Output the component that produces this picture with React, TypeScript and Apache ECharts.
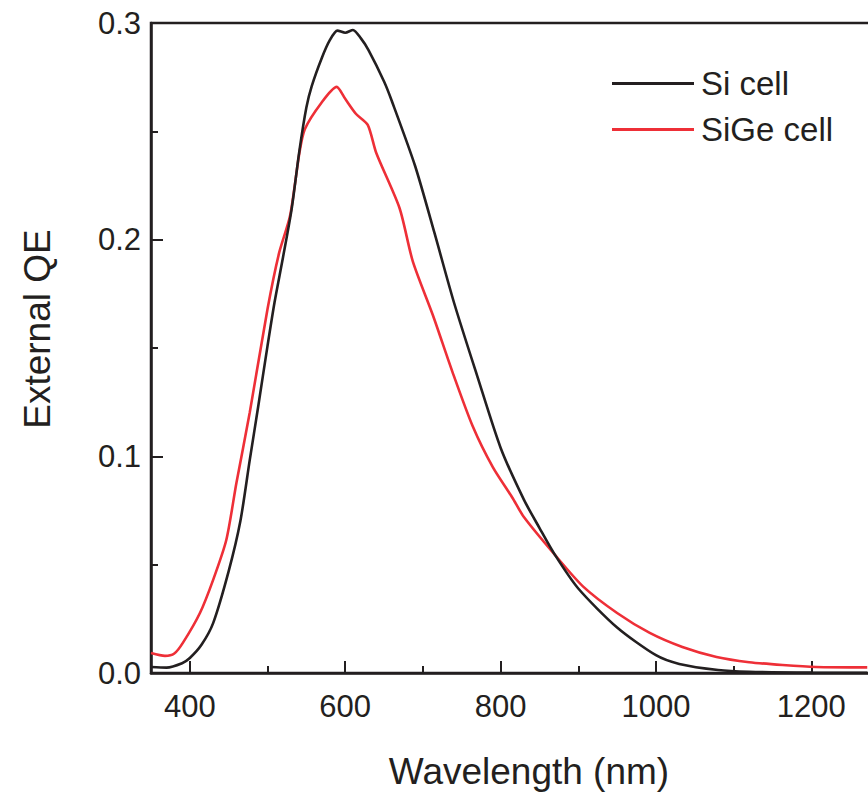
import React, { useEffect, useRef } from "react";
import * as echarts from "echarts";

const siWavelength = [350, 370, 390, 400, 415, 430, 450, 465, 477, 488, 500, 509, 520, 531, 541, 550, 557, 570, 580, 590, 600, 610, 620, 630, 650, 660, 690, 715, 740, 770, 800, 830, 850, 870, 900, 950, 1000, 1030, 1080, 1120, 1200, 1272];
const siQE = [0.0028, 0.0025, 0.0045, 0.0069, 0.013, 0.023, 0.047, 0.07, 0.098, 0.123, 0.151, 0.171, 0.192, 0.214, 0.241, 0.261, 0.271, 0.284, 0.292, 0.2965, 0.2955, 0.2968, 0.293, 0.2875, 0.273, 0.264, 0.234, 0.203, 0.171, 0.137, 0.104, 0.080, 0.067, 0.0545, 0.039, 0.021, 0.0082, 0.0042, 0.0014, 0.0006, 0.0002, 0.0001];

const sigeWavelength = [350, 368, 380, 391, 413, 430, 447, 460, 477, 500, 515, 529, 541, 548, 569, 589, 600, 614, 629, 640, 670, 687, 713, 738, 764, 790, 815, 830, 870, 906, 950, 992, 1034, 1078, 1120, 1163, 1206, 1272];
const sigeQE = [0.0092, 0.0079, 0.009, 0.0139, 0.0277, 0.043, 0.0615, 0.0878, 0.12, 0.168, 0.194, 0.211, 0.240, 0.251, 0.263, 0.2705, 0.265, 0.258, 0.253, 0.240, 0.2145, 0.190, 0.165, 0.139, 0.114, 0.095, 0.081, 0.072, 0.0545, 0.040, 0.0277, 0.0185, 0.012, 0.0074, 0.005, 0.0037, 0.0028, 0.0026];

const majorXTicks = [400, 600, 800, 1000, 1200];
const minorXTicks = [500, 700, 900, 1100, 1300];
const seriesNames = ["Si cell", "SiGe cell"];
const xTitle = "Wavelength (nm)";
const yTitle = "External QE";

const INK = "#231f20";
const RED = "#ee2f37";
const FONT = "'Liberation Sans', Arial, sans-serif";

export default function App() {
  const ref = useRef<HTMLDivElement>(null);
  useEffect(() => {
    document.body.style.margin = "0";
    const chart = echarts.init(ref.current!, null, { renderer: "svg" });
    const zip = (xs: number[], ys: number[]) => xs.map((x, i) => [x, ys[i]]);
    chart.setOption({
      animation: false,
      backgroundColor: "#ffffff",
      textStyle: { fontFamily: FONT },
      grid: {
        left: 151,
        top: 23,
        bottom: 119,
        right: 0,
        show: true,
        borderColor: INK,
        borderWidth: 2.5,
        backgroundColor: "transparent",
      },
      legend: {
        orient: "vertical",
        left: 612,
        top: 67,
        padding: 0,
        icon: "rect",
        itemWidth: 82,
        itemHeight: 3,
        itemGap: 13,
        data: seriesNames,
        textStyle: { fontSize: 33, color: INK, fontFamily: FONT, lineHeight: 33, padding: [0, 0, 0, 2] },
      },
      xAxis: [
        {
          type: "value",
          min: 350,
          max: 1300,
          position: "bottom",
          axisLine: { show: true, lineStyle: { color: INK, width: 2.5 } },
          axisTick: { show: true, inside: true, length: 12, customValues: majorXTicks, lineStyle: { color: INK, width: 2 } },
          axisLabel: {
            show: true,
            customValues: majorXTicks,
            fontSize: 31,
            color: INK,
            margin: 18,
            fontFamily: FONT,
            formatter: (v: number) => String(v),
          },
          splitLine: { show: false },
        },
        {
          type: "value",
          min: 350,
          max: 1300,
          position: "bottom",
          axisLine: { show: false },
          axisTick: { show: true, inside: true, length: 7, customValues: minorXTicks, lineStyle: { color: INK, width: 2 } },
          axisLabel: { show: false },
          splitLine: { show: false },
        },
      ],
      yAxis: {
        type: "value",
        min: 0,
        max: 0.3,
        interval: 0.1,
        axisLine: { show: true, lineStyle: { color: INK, width: 2.5 } },
        axisTick: { show: true, inside: true, length: 12, lineStyle: { color: INK, width: 2 } },
        minorTick: { show: true, splitNumber: 2, length: 7, lineStyle: { color: INK, width: 2 } },
        axisLabel: { fontSize: 31, color: INK, margin: 10, fontFamily: FONT, formatter: (v: number) => v.toFixed(1) },
        splitLine: { show: false },
        minorSplitLine: { show: false },
      },
      graphic: [
        {
          type: "text",
          x: 529,
          y: 771,
          style: { text: xTitle, fontSize: 37, fill: INK, fontFamily: FONT, textAlign: "center", textVerticalAlign: "middle" },
        },
        {
          type: "text",
          x: 37,
          y: 329,
          rotation: Math.PI / 2,
          style: { text: yTitle, fontSize: 37, fill: INK, fontFamily: FONT, textAlign: "center", textVerticalAlign: "middle" },
        },
      ],
      series: [
        {
          name: seriesNames[0],
          type: "line",
          xAxisIndex: 0,
          data: zip(siWavelength, siQE),
          showSymbol: false,
          smooth: 0.25,
          lineStyle: { color: INK, width: 2.6 },
          itemStyle: { color: INK },
          z: 3,
        },
        {
          name: seriesNames[1],
          type: "line",
          xAxisIndex: 0,
          data: zip(sigeWavelength, sigeQE),
          showSymbol: false,
          smooth: 0.25,
          lineStyle: { color: RED, width: 2.6 },
          itemStyle: { color: RED },
          z: 2,
        },
      ],
    });
    return () => chart.dispose();
  }, []);
  return (
    <div style={{ width: 868, height: 792, overflow: "hidden", position: "relative" }}>
      <div ref={ref} style={{ width: 889, height: 792 }} />
    </div>
  );
}
